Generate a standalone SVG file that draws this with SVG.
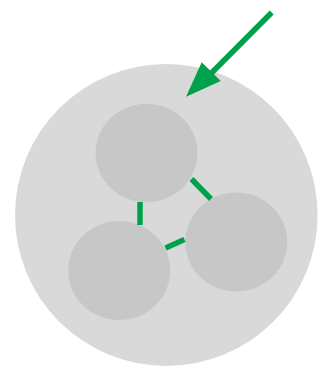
<svg xmlns="http://www.w3.org/2000/svg" width="329" height="367" viewBox="0 0 329 367">
<style>
.big{fill:#d9d9d9}
.cell{fill:#c7c7c7}
.link{stroke:#00a14b;stroke-width:5.5;fill:none}
.head{fill:#00a14b}
</style>
<rect width="329" height="367" fill="#ffffff"/>
<g id="outer"><ellipse class="big" cx="166.3" cy="215" rx="151.3" ry="151"/></g>
<g id="cell-top"><ellipse class="cell" cx="146.5" cy="153" rx="51" ry="49.3"/></g>
<g id="cell-right"><ellipse class="cell" cx="236.2" cy="242" rx="51" ry="49.5"/></g>
<g id="cell-left"><ellipse class="cell" cx="119.2" cy="270.5" rx="51" ry="49.5"/></g>
<g id="connectors">
<line class="link" x1="140" y1="202" x2="140" y2="225"/>
<line class="link" x1="191.5" y1="179" x2="211" y2="199"/>
<line class="link" x1="165.5" y1="248" x2="184.5" y2="239.5"/>
<line class="link" x1="271.7" y1="12.5" x2="207" y2="77.5" stroke-width="6"/>
<polygon class="head" points="186,96.7 201.7,62.3 220.7,81"/>
</g>
</svg>
